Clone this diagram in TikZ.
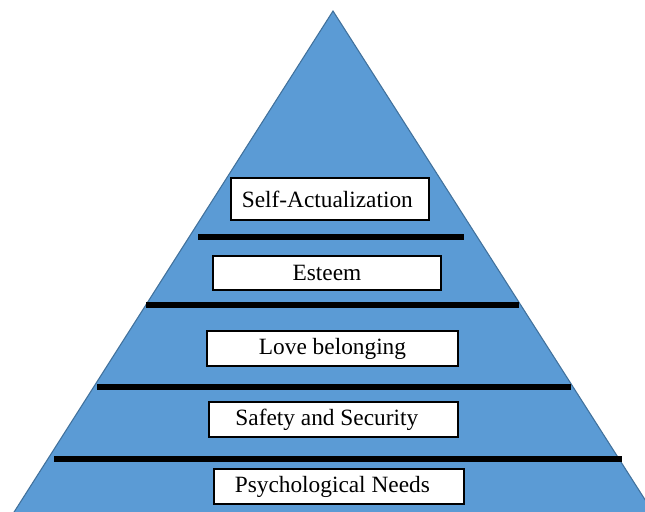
\documentclass[tikz,border=0pt]{standalone}
\usepackage{fontspec}
\setmainfont{Liberation Serif}
\definecolor{tierblue}{RGB}{91,155,213}
\definecolor{tieredge}{RGB}{65,113,156}
\tikzset{
  levelbox/.style={draw=black, fill=white, line width=1.1pt, inner sep=0pt,
    font=\fontsize{17.5}{19}\selectfont},
}

\begin{document}
\begin{tikzpicture}[x=0.75pt, y=-0.75pt]
			%%%%% START %%%%%
			\useasboundingbox (0, 0) rectangle (645, 511);
			\clip (0, 0) rectangle (645, 511);
			
			% the pyramid, running past the lower edge
			\draw[fill=tierblue, draw=tieredge, line width=0.8pt] (333, 11) -- (658, 520) -- (9, 520) -- cycle;
			
			% dividers between the tiers
			\draw[fill=black] (198, 234.5) rectangle (463, 239.5);
			\draw[fill=black] (146, 302.5) rectangle (518, 307.5);
			\draw[fill=black] (97, 384.5) rectangle (570, 389.5);
			\draw[fill=black] (54, 456.5) rectangle (621, 461.5);
			
			% tier labels, top to bottom
			\node[levelbox, minimum width=198*0.75pt, minimum height=42*0.75pt] (selfact) at (330, 199) {Self-Actualization\hspace*{4pt}};
			\node[levelbox, minimum width=228*0.75pt, minimum height=34*0.75pt] (esteem) at (327, 273) {Esteem};
			\node[levelbox, minimum width=251*0.75pt, minimum height=35*0.75pt] (love) at (332.5, 348.5) {Love belonging};
			\node[levelbox, minimum width=249*0.75pt, minimum height=35*0.75pt] (safety) at (333.5, 419.5) {Safety and Security\hspace*{10pt}};
			\node[levelbox, minimum width=250*0.75pt, minimum height=35*0.75pt] (needs) at (339, 486.5) {Psychological Needs\hspace*{10pt}};
			
			%%%%% END %%%%%
		\end{tikzpicture}
\end{document}
